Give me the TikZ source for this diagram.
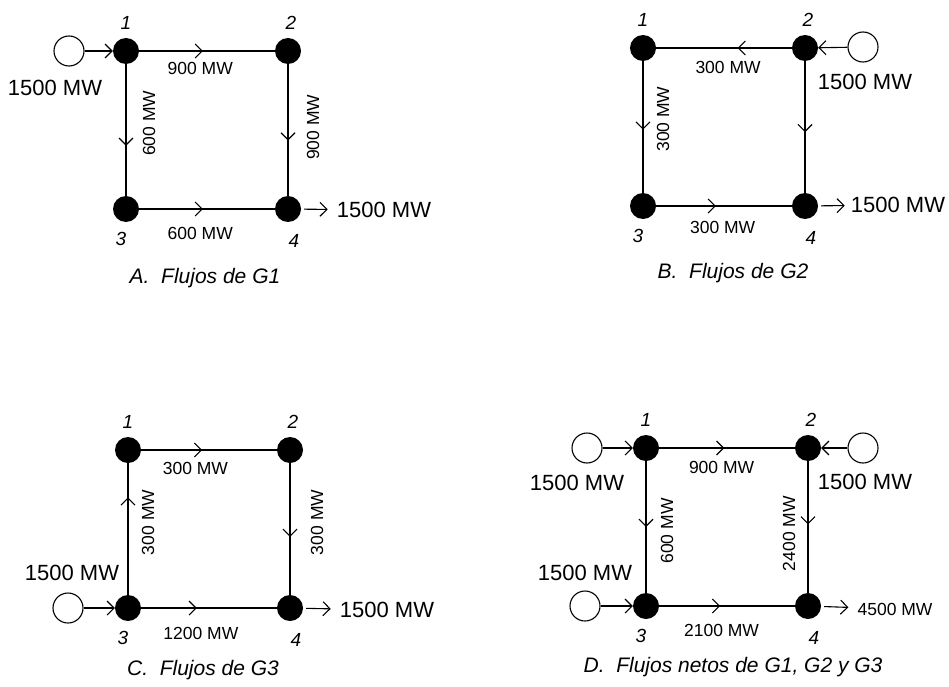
\documentclass[tikz,border=0pt]{standalone}
\usepackage{fontspec}
\setmainfont{Liberation Sans}
\usetikzlibrary{arrows.meta,positioning,decorations.markings}

\tikzset{
  bus/.style={circle,fill=black,inner sep=0pt,minimum size=26pt},
  gen/.style={circle,draw,line width=1.1pt,inner sep=0pt,minimum size=30pt},
  branch/.style={line width=1.6pt},
  flow/.style={branch,decoration={markings,
      mark=at position #1 with {\arrow{Straight Barb[length=7pt,width=14pt,line width=1.1pt]}}},
      postaction={decorate}},
  flow/.default=0.5,
  inj/.style={line width=1.1pt,-{Straight Barb[length=7pt,width=14pt]}},
  mw/.style={font=\fontsize{22}{25}\selectfont,inner sep=1pt},
  elbl/.style={font=\fontsize{17.5}{20}\selectfont,inner sep=1pt},
  vlbl/.style={elbl,rotate=90},
  num/.style={font=\fontsize{19}{22}\selectfont\itshape,inner sep=2pt},
  figcap/.style={font=\fontsize{21}{24}\selectfont\itshape}
}

\begin{document}
\begin{tikzpicture}[x=1pt,y=-1pt]
\useasboundingbox (0,0) rectangle (949,687);

% buses of the four cases
\foreach \p/\x/\y in {a/126/51,b/643/48,c/128/450,d/646/448}{
  \node[bus] (\p1) at (\x,\y) {};
  \node[bus] (\p2) at (\x+162,\y) {};
  \node[bus] (\p3) at (\x,\y+158) {};
  \node[bus] (\p4) at (\x+162,\y+158) {};
  \node[num,above=6pt of \p1] (\p1n) {1};
  \node[num,above=6pt of \p2,xshift=3pt] (\p2n) {2};
  \node[num,below=8pt of \p3,xshift=-5pt] (\p3n) {3};
  \node[num,below=10pt of \p4,xshift=6pt] (\p4n) {4};
}

% A. G1
\node[gen] (ag) at (69,51) {};
\node[mw] (ain) at (55,88) {1500 MW};
\node[mw] (aout) at (384,210) {1500 MW};
\draw[inj] (ag) -- (a1);
\draw[inj,shorten <=3pt,shorten >=8pt] (a4) -- (aout);
\draw[flow=0.47] (a1) -- node[elbl,pos=.45,yshift=-17pt]{900 MW} (a2);
\draw[flow=0.62] (a1) -- node[xshift=23pt,vlbl,pos=.45]{600 MW} (a3);
\draw[flow=0.58] (a2) -- node[xshift=25pt,vlbl,pos=.48]{900 MW} (a4);
\draw[flow=0.47] (a3) -- node[elbl,pos=.45,yshift=-24pt]{600 MW} (a4);
\node[figcap] (acap) at (205,278) {A.\ \ Flujos de G1};

% B. G2
\node[gen] (bg) at (863,47) {};
\node[mw] (bin) at (865,82) {1500 MW};
\node[mw] (bout) at (898,205) {1500 MW};
\draw[inj] (bg) -- (b2);
\draw[inj,shorten <=3pt,shorten >=5pt] (b4) -- (bout);
\draw[flow=0.4] (b2) -- node[elbl,pos=.47,yshift=-19pt]{300 MW} (b1);
\draw[flow=0.52] (b1) -- node[xshift=20pt,vlbl,pos=.44]{300 MW} (b3);
\draw[flow=0.54] (b2) -- (b4);
\draw[flow=0.44] (b3) -- node[elbl,pos=.49,yshift=-21pt]{300 MW} (b4);
\node[figcap] (bcap) at (733,273) {B.\ \ Flujos de G2};

% C. G3
\node[gen] (cg) at (68,608) {};
\node[mw] (cin) at (72,573) {1500 MW};
\node[mw] (cout) at (387,610) {1500 MW};
\draw[inj] (cg) -- (c3);
\draw[inj,shorten <=3pt,shorten >=8pt] (c4) -- (cout);
\draw[flow=0.45] (c1) -- node[elbl,pos=.4,yshift=-18pt]{300 MW} (c2);
\draw[flow=0.74] (c3) -- node[xshift=20pt,vlbl,pos=.55]{300 MW} (c1);
\draw[flow=0.56] (c2) -- node[xshift=27pt,vlbl,pos=.45]{300 MW} (c4);
\draw[flow=0.41] (c3) -- node[elbl,pos=.44,yshift=-25pt]{1200 MW} (c4);
\node[figcap] (ccap) at (203,670) {C.\ \ Flujos de G3};

% D. net flows
\node[gen] (dg1) at (587,448) {};
\node[gen] (dg2) at (863,448) {};
\node[gen] (dg3) at (585,606) {};
\node[mw] (din1) at (577,483) {1500 MW};
\node[mw] (din2) at (865,482) {1500 MW};
\node[mw] (din3) at (585,573) {1500 MW};
\node[elbl] (dout) at (895,609) {4500 MW};
\draw[inj] (dg1) -- (d1);
\draw[inj] (dg2) -- (d2);
\draw[inj] (dg3) -- (d3);
\draw[inj,shorten <=3pt,shorten >=8pt] (d4) -- (dout);
\draw[flow=0.48] (d1) -- node[elbl,pos=.46,yshift=-19pt]{900 MW} (d2);
\draw[flow=0.5] (d1) -- node[xshift=21pt,vlbl,pos=.53]{600 MW} (d3);
\draw[flow=0.48] (d2) -- node[xshift=-19pt,vlbl,pos=.55]{2400 MW} (d4);
\draw[flow=0.45] (d3) -- node[elbl,pos=.46,yshift=-24pt]{2100 MW} (d4);
\node[figcap] (dcap) at (733,667) {D.\ \ Flujos netos de G1, G2 y G3};
\end{tikzpicture}
\end{document}
